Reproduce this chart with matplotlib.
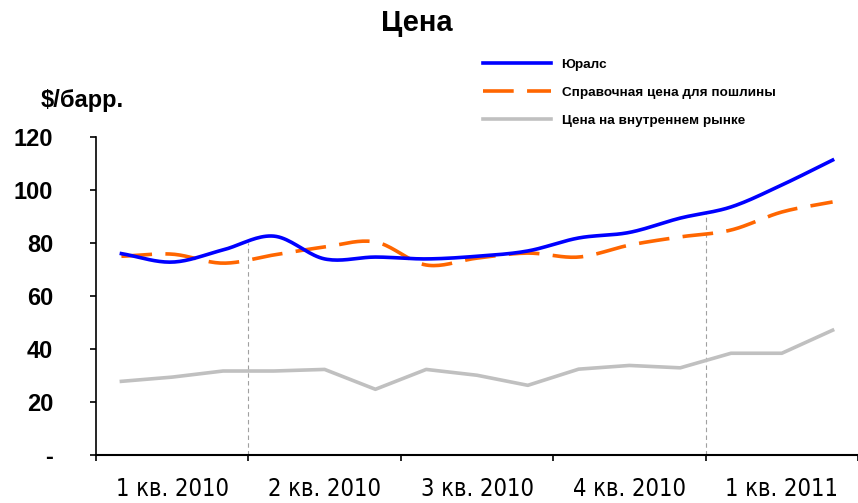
import matplotlib
matplotlib.use('Agg')
import matplotlib.pyplot as plt
import numpy as np

plt.rcParams['font.family'] = ['Liberation Sans', 'DejaVu Sans']

quarters = ['1 кв. 2010', '2 кв. 2010', '3 кв. 2010', '4 кв. 2010', '1 кв. 2011']
urals = [76.0, 72.8, 77.4, 82.6, 74.0, 74.7, 74.0, 75.0, 77.0, 81.9, 84.0, 89.4, 93.6, 101.9, 111.3]
ref_price = [75.0, 75.8, 72.4, 75.5, 78.5, 80.4, 71.7, 74.3, 76.2, 74.7, 79.2, 82.3, 84.9, 91.7, 95.5]
domestic = [27.8, 29.4, 31.7, 31.7, 32.3, 24.8, 32.3, 30.1, 26.3, 32.4, 33.8, 32.9, 38.4, 38.4, 47.1]
yticks = [0, 20, 40, 60, 80, 100, 120]
ytick_labels = ['-', '20', '40', '60', '80', '100', '120']
drop_months = [3, 12]


def smooth(x, y, n=20):
    # catmull-rom, like excel "smoothed line"
    x = np.asarray(x, float)
    y = np.asarray(y, float)
    px = np.concatenate([[2 * x[0] - x[1]], x, [2 * x[-1] - x[-2]]])
    py = np.concatenate([[2 * y[0] - y[1]], y, [2 * y[-1] - y[-2]]])
    t = np.linspace(0, 1, n, endpoint=False)
    xs, ys = [], []
    for i in range(1, len(px) - 2):
        for p, out in ((px, xs), (py, ys)):
            p0, p1, p2, p3 = p[i - 1], p[i], p[i + 1], p[i + 2]
            out.extend(0.5 * (2 * p1 + (-p0 + p2) * t + (2 * p0 - 5 * p1 + 4 * p2 - p3) * t ** 2
                              + (-p0 + 3 * p1 - 3 * p2 + p3) * t ** 3))
    xs.append(x[-1])
    ys.append(y[-1])
    return np.array(xs), np.array(ys)


months = np.arange(len(urals)) + 0.5

fig = plt.figure(figsize=(8.58, 5.03), dpi=100)
ax = fig.add_axes([0.1119, 0.0954, 0.8881, 0.6322])

# drop lines to the Urals curve
for m in drop_months:
    top = (urals[m - 1] + urals[m]) / 2
    ax.vlines(m, 0, top, colors='#a0a0a0', linestyles=(0, (4, 3)), linewidth=0.8, zorder=1)

ax.plot(months, domestic, color='#c0c0c0', linewidth=2.6, label='Цена на внутреннем рынке', zorder=2)
sx, sy = smooth(months, ref_price)
ax.plot(sx, sy, color='#ff6600', linewidth=2.6, dashes=(8.5, 3.7), label='Справочная цена для пошлины', zorder=3)
sx, sy = smooth(months, urals)
ax.plot(sx, sy, color='#0000ff', linewidth=2.6, label='Юралс', zorder=4)

ax.set_xlim(0, 15)
ax.set_ylim(0, 120)
ax.set_yticks(yticks)
ax.set_yticklabels(ytick_labels, fontsize=17, fontweight='bold')
ax.tick_params(axis='y', direction='out', length=4.3, width=1.2, pad=26.5)

ax.set_xticks(np.arange(0, 16, 3))
ax.set_xticklabels([])
ax.set_xticks(np.arange(1.5, 15, 3), minor=True)
ax.set_xticklabels(quarters, minor=True, fontsize=17, family='DejaVu Sans', fontstretch='condensed')
ax.tick_params(axis='x', which='major', direction='out', length=4.3, width=1.2)
ax.tick_params(axis='x', which='minor', length=0, pad=16)

for side in ['top', 'right']:
    ax.spines[side].set_visible(False)
ax.spines['left'].set_linewidth(1.2)
ax.spines['bottom'].set_linewidth(1.5)

handles, labels = ax.get_legend_handles_labels()
fig.legend(handles[::-1], labels[::-1], loc='upper left', bbox_to_anchor=(476 / 858, 1 - 52 / 503),
           frameon=False, prop={'size': 9.7, 'weight': 'bold'}, handlelength=5.1, borderpad=0,
           handletextpad=0.75, labelspacing=1.15)

fig.text(0.486, 0.955, 'Цена', ha='center', va='center', fontsize=21, fontweight='bold')
fig.text(0.047, 0.80, '$/барр.', ha='left', va='center', fontsize=17, fontweight='bold')

fig.savefig('out.png', dpi=100)
